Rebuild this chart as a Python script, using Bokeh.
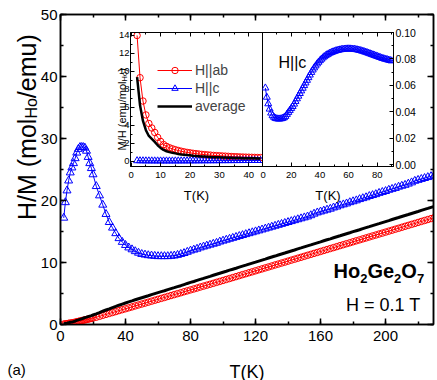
import math
from bokeh.plotting import figure
from bokeh.models import (Range1d, LinearAxis, SingleIntervalTicker, CustomJSTickFormatter,
                          PrintfTickFormatter, Label, Legend, LegendItem)
from bokeh.embed import file_html
from bokeh.resources import INLINE

FONT = "Liberation Sans"

# ---------------- data ----------------
# main panel: H/M (mol_Ho/emu) vs T(K)
T_main = list(range(2, 21)) + list(range(22, 231, 2))
HM_ab = [0.07, 0.11, 0.15, 0.19, 0.24, 0.27, 0.31, 0.37, 0.45, 0.50, 0.56, 0.62, 0.68, 0.74, 0.80, 0.86, 0.92, 0.98, 1.04,
         1.17, 1.32, 1.48, 1.63, 1.78, 1.93, 2.08, 2.24, 2.39, 2.54,
         2.69, 2.84, 3.00, 3.15, 3.30, 3.45, 3.60, 3.76, 3.91, 4.06,
         4.21, 4.36, 4.52, 4.67, 4.82, 4.97, 5.12, 5.28, 5.43, 5.58,
         5.73, 5.88, 6.04, 6.19, 6.34, 6.49, 6.64, 6.80, 6.95, 7.10,
         7.26, 7.41, 7.57, 7.72, 7.88, 8.04, 8.19, 8.35, 8.50, 8.66,
         8.82, 8.97, 9.13, 9.28, 9.44, 9.60, 9.75, 9.91, 10.06, 10.22,
         10.38, 10.53, 10.69, 10.84, 11.00, 11.16, 11.31, 11.47, 11.62, 11.78,
         11.94, 12.09, 12.25, 12.40, 12.56, 12.72, 12.87, 13.03, 13.18, 13.34,
         13.50, 13.65, 13.81, 13.96, 14.12, 14.28, 14.43, 14.59, 14.74, 14.90,
         15.06, 15.21, 15.37, 15.52, 15.68, 15.84, 15.99, 16.15, 16.30, 16.46,
         16.62, 16.77, 16.93, 17.08, 17.24]
HM_c = [17.2, 19.7, 21.6, 23.2, 24.5, 25.3, 26.0, 26.8, 27.7, 28.3, 28.6, 28.6, 28.6, 28.5, 28.0, 27.0, 26.0, 25.2, 24.2,
        22.3, 20.8, 19.3, 17.8, 16.5, 15.6, 14.7, 13.9, 13.3, 12.8,
        12.4, 12.1, 11.8, 11.55, 11.35, 11.25, 11.15, 11.1, 11.05, 11.0,
        11.0, 11.0, 11.0, 11.05, 11.1, 11.2, 11.35, 11.5, 11.7, 11.9,
        12.05, 12.2, 12.4, 12.55, 12.7, 12.85, 13.0, 13.15, 13.35, 13.5,
        13.65, 13.8, 13.95, 14.1, 14.25, 14.4, 14.55, 14.7, 14.85, 15.0,
        15.15, 15.3, 15.45, 15.6, 15.75, 15.9, 16.05, 16.2, 16.35, 16.5,
        16.65, 16.8, 16.95, 17.1, 17.25, 17.4, 17.6, 17.85, 18.05, 18.2,
        18.35, 18.5, 18.65, 18.85, 19.0, 19.2, 19.35, 19.5, 19.7, 19.85,
        20.0, 20.2, 20.35, 20.5, 20.7, 20.85, 21.0, 21.2, 21.35, 21.5,
        21.7, 21.85, 22.0, 22.2, 22.35, 22.5, 22.7, 22.9, 23.15, 23.3,
        23.45, 23.6, 23.75, 23.9, 24.05]
HM_avg = [0.11, 0.17, 0.22, 0.28, 0.36, 0.40, 0.46, 0.55, 0.67, 0.74, 0.83, 0.92, 1.01, 1.10, 1.18, 1.27, 1.36, 1.44, 1.53,
          1.71, 1.92, 2.14, 2.34, 2.53, 2.73, 2.91, 3.11, 3.29, 3.47,
          3.64, 3.81, 3.99, 4.16, 4.32, 4.48, 4.64, 4.82, 4.98, 5.14,
          5.30, 5.45, 5.63, 5.79, 5.94, 6.11, 6.26, 6.44, 6.62, 6.79,
          6.94, 7.11, 7.28, 7.44, 7.61, 7.77, 7.94, 8.11, 8.27, 8.43,
          8.59, 8.76, 8.92, 9.08, 9.25, 9.41, 9.57, 9.74, 9.90, 10.06,
          10.23, 10.39, 10.55, 10.72, 10.88, 11.04, 11.21, 11.37, 11.53, 11.70,
          11.86, 12.02, 12.19, 12.35, 12.52, 12.68, 12.84, 13.01, 13.17, 13.33,
          13.50, 13.66, 13.82, 13.99, 14.15, 14.31, 14.48, 14.64, 14.80, 14.97,
          15.13, 15.29, 15.46, 15.62, 15.78, 15.95, 16.11, 16.27, 16.44, 16.60,
          16.76, 16.93, 17.09, 17.25, 17.42, 17.58, 17.74, 17.91, 18.07, 18.23,
          18.40, 18.56, 18.72, 18.89, 19.05]

# inset, left panel: M/H (emu/mol_Ho) vs T(K)
T_in = list(range(2, 45))
MH_ab = [14.0, 9.3, 6.7, 5.15, 4.2, 3.7, 3.2, 2.65, 2.2, 1.85, 1.65, 1.5, 1.38, 1.28, 1.19, 1.11, 1.04, 0.98, 0.93,
         0.88, 0.84, 0.8, 0.76, 0.73, 0.7, 0.67, 0.64, 0.62, 0.6, 0.58, 0.56, 0.54, 0.52, 0.5, 0.49, 0.47, 0.46,
         0.45, 0.44, 0.43, 0.42, 0.41, 0.4]
MH_avg = [9.35, 6.22, 4.48, 3.45, 2.81, 2.48, 2.15, 1.78, 1.48, 1.25, 1.11, 1.01, 0.93, 0.87, 0.81, 0.75, 0.72, 0.68,
          0.65, 0.61, 0.59, 0.56, 0.53, 0.51, 0.49, 0.47, 0.45, 0.44, 0.43, 0.41, 0.40, 0.39, 0.38, 0.37, 0.36, 0.35,
          0.34, 0.34, 0.33, 0.32, 0.32, 0.31, 0.30]
# inset, right panel: M/H for H||c
T_c = list(range(2, 91))
MH_c = [0.058, 0.051, 0.046, 0.042, 0.039, 0.037, 0.0358, 0.035, 0.0347, 0.0345, 0.0345, 0.0347, 0.035, 0.0355,
        0.0365, 0.038, 0.0395, 0.041, 0.0425, 0.044, 0.0458, 0.0478, 0.0498, 0.0518, 0.0538, 0.0558, 0.0578,
        0.0598, 0.0618, 0.0638, 0.0658, 0.0678, 0.0698, 0.0716, 0.0732, 0.0747, 0.0762, 0.0775, 0.0787, 0.0798,
        0.0808, 0.0817, 0.0825, 0.0832, 0.0838, 0.0844, 0.0849, 0.0853, 0.0857, 0.0861, 0.0864, 0.0867, 0.0869,
        0.0871, 0.0873, 0.0874, 0.0875, 0.0876, 0.0876, 0.0876, 0.0875, 0.0874, 0.0873, 0.0871, 0.0869, 0.0867,
        0.0864, 0.0861, 0.0858, 0.0854, 0.0851, 0.0847, 0.0843, 0.0839, 0.0835, 0.0831, 0.0827, 0.0823, 0.0819,
        0.0815, 0.0811, 0.0807, 0.0803, 0.08, 0.0797, 0.0794, 0.0791, 0.0788, 0.0785]
N_LEFT = len(T_in)

BLANK = "return ''"


def style_axis(ax, fs, major, minor, lw, standoff=3):
    ax.axis_line_width = lw
    ax.axis_line_color = "black"
    ax.major_tick_line_width = lw
    ax.minor_tick_line_width = lw
    ax.major_tick_line_color = "black"
    ax.minor_tick_line_color = "black"
    ax.major_tick_in = major
    ax.major_tick_out = 0
    ax.minor_tick_in = minor
    ax.minor_tick_out = 0
    ax.major_label_text_font = FONT
    ax.major_label_text_font_size = fs
    ax.major_label_text_color = "black"
    ax.major_label_standoff = standoff


def blank_axis(ticker, lw, major, minor):
    ax = LinearAxis(ticker=ticker, formatter=CustomJSTickFormatter(code=BLANK))
    style_axis(ax, "0px", major, minor, lw, standoff=0)
    return ax


# ---------------- main figure ----------------
p = figure(width=437, height=380, x_range=Range1d(0, 229.5), y_range=Range1d(0, 50),
           output_backend="svg", toolbar_location=None,
           min_border_left=60, min_border_right=4, min_border_top=14, min_border_bottom=56)
p.xgrid.visible = False
p.ygrid.visible = False
p.outline_line_color = "black"
p.outline_line_width = 1.5

xb = p.xaxis[0]
xb.ticker = SingleIntervalTicker(interval=40, num_minor_ticks=2)
style_axis(xb, "15px", 6, 3, 1.5, standoff=6)

yl = p.yaxis[0]
yl.ticker = SingleIntervalTicker(interval=10, num_minor_ticks=2)
style_axis(yl, "15px", 6, 3, 1.5, standoff=3)

p.add_layout(blank_axis(SingleIntervalTicker(interval=40, num_minor_ticks=2), 1.5, 6, 3), "above")
p.add_layout(blank_axis(SingleIntervalTicker(interval=10, num_minor_ticks=2), 1.5, 6, 3), "right")

p.line(T_main, HM_c, line_color="blue", line_width=1)
p.scatter(T_main, HM_c, marker="triangle", size=8, fill_color=None, line_color="blue", line_width=1)
p.line(T_main, HM_ab, line_color="red", line_width=1)
p.scatter(T_main, HM_ab, marker="circle", size=6.5, fill_color=None, line_color="red", line_width=1)
p.line(T_main, HM_avg, line_color="black", line_width=3)

# ---------------- inset left ----------------
pL = figure(width=168, height=180, x_range=Range1d(-0.24, 44.66), y_range=Range1d(-0.59, 14.33),
            output_backend="svg", toolbar_location=None,
            min_border_left=34, min_border_right=2, min_border_top=6, min_border_bottom=40,
            background_fill_color=None, border_fill_color=None)
pL.xgrid.visible = False
pL.ygrid.visible = False
pL.outline_line_color = "black"
pL.outline_line_width = 1
ax = pL.xaxis[0]
ax.ticker = SingleIntervalTicker(interval=10, num_minor_ticks=2)
style_axis(ax, "9.5px", 4, 2, 1, standoff=5)
ay = pL.yaxis[0]
ay.ticker = SingleIntervalTicker(interval=2, num_minor_ticks=2)
style_axis(ay, "9.5px", 4, 2, 1, standoff=1)
pL.add_layout(blank_axis(SingleIntervalTicker(interval=10, num_minor_ticks=2), 1, 4, 2), "above")

r_ab_l = pL.line(T_in, MH_ab, line_color="red", line_width=1)
r_ab_s = pL.scatter(T_in, MH_ab, marker="circle", size=6.5, fill_color=None, line_color="red")
r_c_l = pL.line(T_in, MH_c[:N_LEFT], line_color="blue", line_width=1)
r_c_s = pL.scatter(T_in, MH_c[:N_LEFT], marker="triangle", size=7, fill_color=None, line_color="blue")
r_avg = pL.line(T_in, MH_avg, line_color="black", line_width=2.5)

legend = Legend(items=[LegendItem(label="H||ab", renderers=[r_ab_l, r_ab_s]),
                       LegendItem(label="H||c", renderers=[r_c_l, r_c_s]),
                       LegendItem(label="average", renderers=[r_avg])],
                location=(27, 52), padding=1, spacing=2,
                glyph_width=35, glyph_height=16, label_height=16, label_standoff=3,
                label_text_font=FONT, label_text_font_size="14px",
                background_fill_alpha=0, border_line_color=None)
pL.add_layout(legend)

# ---------------- inset right ----------------
pR = figure(width=163, height=180, x_range=Range1d(0, 91.3), y_range=Range1d(-0.0015, 0.1),
            output_backend="svg", toolbar_location=None, y_axis_location="right",
            min_border_left=2, min_border_right=30, min_border_top=6, min_border_bottom=40,
            background_fill_color=None, border_fill_color=None)
pR.xgrid.visible = False
pR.ygrid.visible = False
pR.outline_line_color = "black"
pR.outline_line_width = 1
bx = pR.xaxis[0]
bx.ticker = SingleIntervalTicker(interval=20, num_minor_ticks=2)
style_axis(bx, "9.5px", 4, 2, 1, standoff=5)
by = pR.yaxis[0]
by.ticker = SingleIntervalTicker(interval=0.02, num_minor_ticks=2)
by.formatter = PrintfTickFormatter(format="%.2f")
style_axis(by, "10.5px", 4, 2, 1, standoff=2)
pR.add_layout(blank_axis(SingleIntervalTicker(interval=20, num_minor_ticks=2), 1, 4, 2), "above")

pR.line(T_c, MH_c, line_color="blue", line_width=1)
pR.scatter(T_c, MH_c, marker="triangle", size=7, fill_color=None, line_color="blue")

# ---------------- text layer (page pixel coordinates, y downward) ----------------
t = figure(width=437, height=380, x_range=Range1d(0, 437), y_range=Range1d(380, 0),
           output_backend="svg", toolbar_location=None, x_axis_type=None, y_axis_type=None,
           min_border=0, background_fill_color=None, border_fill_color=None, outline_line_color=None)
t.grid.visible = False


def lab(x, y, text, size, angle=0.0, style="normal", align="left"):
    t.add_layout(Label(x=x, y=y, text=text, text_font=FONT, text_font_size=size,
                       text_font_style=style, text_align=align, text_baseline="alphabetic",
                       angle=angle, text_color="black"))


R = math.pi / 2
# axis titles
lab(26, 219.5, "H/M (mol", "25px", angle=R)
lab(31, 118.1, "Ho", "16px", angle=R)
lab(26, 97.7, "/emu)", "25px", angle=R)
lab(246.5, 371, "T(K)", "18px", align="center")
lab(121, 150, "M/H (emu/mol", "11px", angle=R)
lab(123.5, 80.9, "Ho", "7.5px", angle=R)
lab(121, 71.3, ")", "11px", angle=R)
lab(196, 194.5, "T(K)", "13px", align="center")
lab(327.5, 194.5, "T(K)", "13px", align="center")
# compound and field
lab(333, 270, "Ho", "20px", style="bold")
lab(359.7, 278, "2", "13px", style="bold")
lab(366.9, 270, "Ge", "20px", style="bold")
lab(393.6, 278, "2", "13px", style="bold")
lab(400.8, 270, "O", "20px", style="bold")
lab(416.4, 278, "7", "13px", style="bold")
lab(420, 304, "H = 0.1 T", "18px", align="right")
lab(7, 369, "(a)", "15px")
lab(278, 62, "H||c", "16px")

pL.styles = {"position": "absolute", "left": "96px", "top": "26px"}
pR.styles = {"position": "absolute", "left": "260px", "top": "26px"}
t.styles = {"position": "absolute", "left": "0px", "top": "0px"}

open("out.html", "w").write(file_html([p, pL, pR, t], INLINE))
